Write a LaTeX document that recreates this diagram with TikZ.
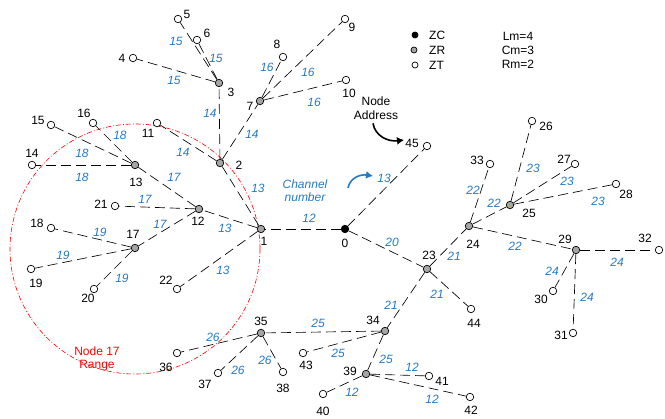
\documentclass[tikz,border=0pt]{standalone}
\usepackage{fontspec}
\setmainfont{Liberation Sans}
\usetikzlibrary{arrows.meta}
\definecolor{chblue}{RGB}{36,122,200}
\definecolor{zrgray}{RGB}{165,165,165}
\begin{document}
\begin{tikzpicture}[x=1pt,y=-1pt,
  dev/.style={circle,draw,line width=0.7pt,inner sep=0pt,minimum size=7.5pt},
  zt/.style={dev,fill=white},
  zr/.style={dev,fill=zrgray},
  zc/.style={dev,fill=black},
  link/.style={draw,line width=0.65pt,dash pattern=on 10pt off 5pt},
  ch/.style={text=chblue,font=\fontsize{12}{13}\selectfont\itshape,inner sep=0pt},
  lb/.style={font=\fontsize{12}{13.5}\selectfont,inner sep=0pt},
]
\useasboundingbox (0,0) rectangle (665,419);
% range circle
\draw[red,line width=0.6pt,dash pattern=on 5pt off 2pt on 1pt off 2pt] (135,249) circle (125);
% devices
\node[zc] (n0) at (345,229) {};
\node[zr] (n1) at (261,229) {};
\node[zr] (n2) at (220,163) {};
\node[zr] (n3) at (219,83) {};
\node[zt] (n4) at (133,58) {};
\node[zt] (n5) at (178,19) {};
\node[zt] (n6) at (197,40) {};
\node[zr] (n7) at (260,101) {};
\node[zt] (n8) at (283,57) {};
\node[zt] (n9) at (345,19) {};
\node[zt] (n10) at (346,80) {};
\node[zt] (n11) at (157,123) {};
\node[zr] (n12) at (199,209) {};
\node[zr] (n13) at (135,165) {};
\node[zt] (n14) at (32,165) {};
\node[zt] (n15) at (51,125) {};
\node[zt] (n16) at (93,123) {};
\node[zr] (n17) at (135,248) {};
\node[zt] (n18) at (51,228) {};
\node[zt] (n19) at (31,269) {};
\node[zt] (n20) at (94,289) {};
\node[zt] (n21) at (115,206) {};
\node[zt] (n22) at (177,289) {};
\node[zr] (n23) at (427,269) {};
\node[zr] (n24) at (469,226) {};
\node[zr] (n25) at (510,205) {};
\node[zt] (n26) at (532,121) {};
\node[zt] (n27) at (575,164) {};
\node[zt] (n28) at (616,184) {};
\node[zr] (n29) at (576,250) {};
\node[zt] (n30) at (553,291) {};
\node[zt] (n31) at (573,333) {};
\node[zt] (n32) at (659,250) {};
\node[zt] (n33) at (490,164) {};
\node[zr] (n34) at (385,331) {};
\node[zr] (n35) at (261,333) {};
\node[zt] (n36) at (177,353) {};
\node[zt] (n37) at (218,373) {};
\node[zt] (n38) at (283,372) {};
\node[zr] (n39) at (366,374) {};
\node[zt] (n40) at (323,394) {};
\node[zt] (n41) at (429,376) {};
\node[zt] (n42) at (470,397) {};
\node[zt] (n43) at (303,353) {};
\node[zt] (n44) at (471,309) {};
\node[zt] (n45) at (427,146) {};
% links
\foreach \a/\b in {0/1,0/45,0/23,1/2,1/12,1/22,2/3,2/7,2/11,3/4,3/5,3/6,7/8,7/9,7/10,
  12/13,12/21,12/17,13/14,13/15,13/16,17/18,17/19,17/20,23/24,23/34,23/44,
  24/33,24/25,24/29,25/26,25/27,25/28,29/30,29/31,29/32,34/35,34/43,34/39,
  35/36,35/37,35/38,39/40,39/41,39/42}
  \draw[link] (n\a) -- (n\b);
% address labels
\foreach \n/\x/\y in {0/345/243,1/264/241,2/239/165,3/231/92,4/122/58,5/187/14,6/207/33,
  7/250/106,8/277/44,9/352/27,10/349/93,11/148/133,12/198/221,13/136/182,14/32/153,
  15/38/120,16/84/113,17/133/234,18/37/223,19/36/283,20/88/298,21/101/204,22/166/280,
  23/429/255,24/473/244,25/529/213,26/546/126,27/564/159,28/626/194,29/565/239,
  30/541/299,31/561/335,32/645/238,33/477/160,34/373/320,35/261/321,36/166/367,
  37/205/384,38/283/388,39/350/371,40/323/411,41/442/381,42/471/410,43/306/365,
  44/474/323,45/412/143}
  \node[lb] (a\n) at (\x,\y) {\n};
% channel labels
\foreach \i/\t/\x/\y in {1/15/176/41,2/15/216/58,3/15/174/80,4/14/210/113,5/14/252/134,
  6/14/183/152,7/16/267/67,8/16/308/72,9/16/314/102,10/13/258/188,11/13/225/228,
  12/13/223/270,13/12/309/218,14/13/384/178,15/20/392/242,16/18/120/135,17/18/82/153,
  18/18/82/177,19/17/174/177,20/17/145/199,21/17/160/224,22/19/100/232,23/19/63/255,
  24/19/122/278,25/21/454/256,26/21/391/305,27/21/437/294,28/22/473/190,29/22/494/203,
  30/22/515/246,31/23/533/168,32/23/567/181,33/23/598/201,34/24/552/271,35/24/587/297,
  36/24/617/262,37/25/318/323,38/25/338/353,39/25/386/359,40/26/213/337,41/26/238/370,
  42/26/265/360,43/12/412/367,44/12/352/392,45/12/432/399}
  \node[ch] (c\i) at (\x,\y) {\t};
% annotations
\node[lb,align=center] (addr) at (376,108) {Node\\Address};
\coordinate (addrEnd) at (404,140);
\draw[line width=1.6pt,-{Latex[length=7pt,width=8pt]}] (addr.south) ++(-3,4) .. controls (375,136) and (388,142) .. (addrEnd);
\node[ch,align=center] (chan) at (305,191) {Channel\\number};
\coordinate (chanEnd) at (373,176);
\draw[chblue,line width=1.6pt,-{Latex[length=7pt,width=8pt]}] (348,188) .. controls (350,178) and (360,174) .. (chanEnd);
\node[lb,text=red,align=center] (rng) at (97,359) {Node 17\\Range};
% legend
\node[zc,minimum size=6pt] (lzc) at (415,35) {};
\node[zr,minimum size=6pt] (lzr) at (414,50) {};
\node[zt,minimum size=6pt] (lzt) at (415,65) {};
\node[lb,anchor=west] (tzc) at (429,35) {ZC};
\node[lb,anchor=west] (tzr) at (429,50) {ZR};
\node[lb,anchor=west] (tzt) at (429,65) {ZT};
\node[lb] (lm) at (518,36) {Lm=4};
\node[lb] (cm) at (518,50) {Cm=3};
\node[lb] (rm) at (518,64) {Rm=2};
\end{tikzpicture}
\end{document}
